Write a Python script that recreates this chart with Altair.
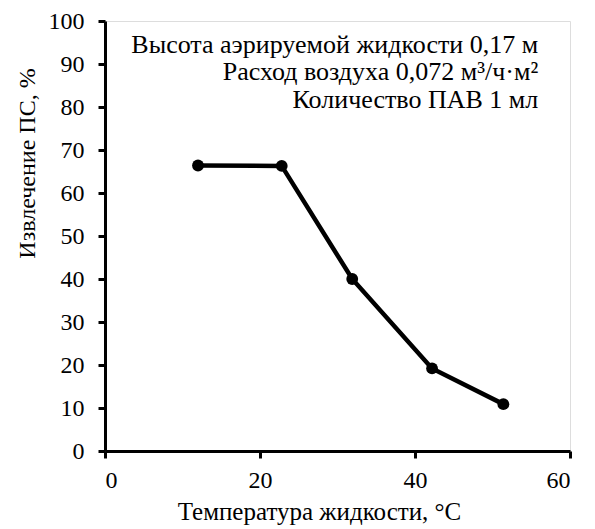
import altair as alt
import pandas as pd

temps = [12.0, 22.8, 31.9, 42.2, 51.4]
extraction = [66.4, 66.3, 40.0, 19.2, 10.9]

notes = ["Высота аэрируемой  жидкости 0,17 м",
         "Расход воздуха 0,072 м³/ч·м²",
         "Количество ПАВ  1 мл"]
note_x = [55.9, 55.9, 55.9]
note_y = [94.4, 88.2, 81.7]

df = pd.DataFrame({"t": temps, "e": extraction})
nd = pd.DataFrame({"text": notes, "x": note_x, "y": note_y})

FONT = "Liberation Serif"

xs = alt.Scale(domain=[0, 60], nice=False)
ys = alt.Scale(domain=[0, 100], nice=False)

xax = alt.Axis(values=[0, 20, 40, 60], title="Температура  жидкости, °C", grid=False,
               labelFont=FONT, labelFontSize=24, titleFont=FONT, titleFontSize=25,
               titleFontWeight="normal", labelColor="black", titleColor="black",
               domainColor="black", domainWidth=3, tickColor="black", tickWidth=3,
               tickSize=7, labelPadding=10, titleX=214, titleY=60,
               titleBaseline="middle", titleAlign="center")
yax = alt.Axis(values=list(range(0, 101, 10)), title="Извлечение  ПС, %", grid=False,
               labelFont=FONT, labelFontSize=24, titleFont=FONT, titleFontSize=24,
               titleFontWeight="normal", labelColor="black", titleColor="black",
               domainColor="black", domainWidth=3, tickColor="black", tickWidth=3,
               tickSize=7, labelPadding=14, titleX=-78, titleY=142, titleAngle=270,
               titleBaseline="middle", titleAlign="center")

line = alt.Chart(df).mark_line(color="black", strokeWidth=4.5).encode(
    x=alt.X("t:Q", scale=xs, axis=xax),
    y=alt.Y("e:Q", scale=ys, axis=yax),
)
pts = alt.Chart(df).mark_point(filled=True, color="black", size=140, opacity=1).encode(
    x=alt.X("t:Q", scale=xs), y=alt.Y("e:Q", scale=ys))
txt = alt.Chart(nd).mark_text(align="right", baseline="middle", font=FONT, fontSize=26,
                              color="black").encode(
    x=alt.X("x:Q", scale=xs), y=alt.Y("y:Q", scale=ys), text="text:N")

chart = alt.layer(line, pts, txt).properties(
    width=465, height=430,
    autosize=alt.AutoSizeParams(type="none"),
    padding={"left": 97, "top": 13, "right": 17, "bottom": 78},
).configure_view(stroke=None).configure(background="white")

chart.save("out.html", embed_options={"renderer": "svg", "actions": False})
